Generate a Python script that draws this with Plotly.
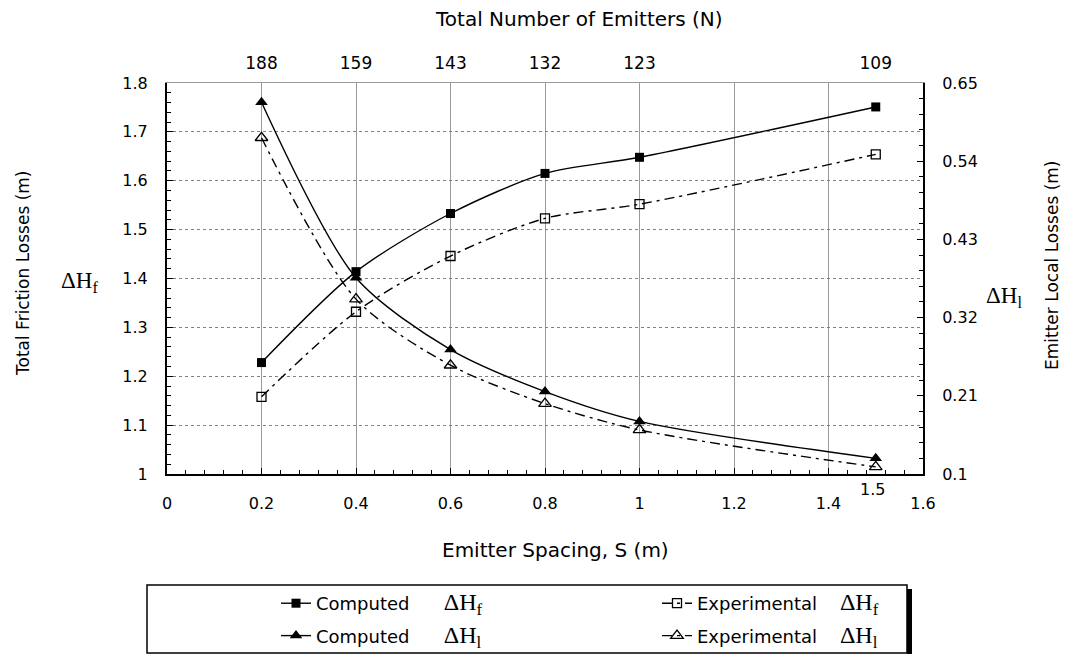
import plotly.graph_objects as go

# Emitter spacing (m) and the total number of emitters at each spacing
spacing = [0.2, 0.4, 0.6, 0.8, 1.0, 1.5]
n_emitters = ["188", "159", "143", "132", "123", "109"]

# Total friction losses ΔHf (m)
hf_computed = [1.228, 1.414, 1.533, 1.615, 1.648, 1.751]
hf_experimental = [1.158, 1.332, 1.446, 1.523, 1.552, 1.654]

# Emitter local losses ΔHl (m)
hl_computed = [0.623, 0.376, 0.275, 0.216, 0.174, 0.122]
hl_experimental = [0.573, 0.346, 0.253, 0.199, 0.162, 0.110]

# Right-axis tick labels
hl_ticks = [0.1, 0.21, 0.32, 0.43, 0.54, 0.65]
hl_ticktext = ["0.1", "0.21", "0.32", "0.43", "0.54", "0.65"]

SANS = "DejaVu Sans"
SERIF = "Liberation Serif"
W, H = 1067, 655
ML, MR, MT, MB = 167, 144, 83, 181
PW, PH = W - ML - MR, H - MT - MB


def px(x):
    return (x - ML) / PW


def py(y):
    return (H - MB - y) / PH


def dh(sub, size=24):
    return (f"<span style='font-family:{SERIF};font-size:{size}px'>"
            f"ΔH<sub>{sub}</sub></span>")


NB = "\u00a0"
dashdot = "10px,5px,3px,5px"

fig = go.Figure()

fig.add_trace(go.Scatter(
    x=spacing, y=hf_computed, mode="lines+markers",
    line=dict(color="black", width=1.4, shape="spline", smoothing=0.8),
    marker=dict(symbol="square", size=9, color="black"),
    name="Computed" + NB * 6 + dh("f"), legend="legend", legendgroup="a",
))
fig.add_trace(go.Scatter(
    x=spacing, y=hl_computed, yaxis="y2", mode="lines+markers",
    line=dict(color="black", width=1.4, shape="spline", smoothing=0.8),
    marker=dict(symbol="triangle-up", size=11, color="black"),
    name="Computed" + NB * 6 + dh("l"), legend="legend", legendgroup="b",
))
fig.add_trace(go.Scatter(
    x=spacing, y=hf_experimental, mode="lines+markers",
    line=dict(color="black", width=1.4, shape="spline", smoothing=0.8, dash=dashdot),
    marker=dict(symbol="square-open", size=9, color="black", line=dict(width=1.3)),
    name="Experimental" + NB * 4 + dh("f"), legend="legend2", legendgroup="c",
))
fig.add_trace(go.Scatter(
    x=spacing, y=hl_experimental, yaxis="y2", mode="lines+markers",
    line=dict(color="black", width=1.4, shape="spline", smoothing=0.8, dash=dashdot),
    marker=dict(symbol="triangle-up-open", size=11, color="black", line=dict(width=1.3)),
    name="Experimental" + NB * 4 + dh("l"), legend="legend2", legendgroup="d",
))
# Top axis carrier (emitter counts)
fig.add_trace(go.Scatter(
    x=spacing, y=hf_computed, xaxis="x2", mode="markers",
    marker=dict(opacity=0), showlegend=False, hoverinfo="skip",
))

tick_font = dict(family=SANS, size=16, color="black")

fig.update_layout(
    width=W, height=H,
    margin=dict(l=ML, r=MR, t=MT, b=MB, autoexpand=False),
    paper_bgcolor="white", plot_bgcolor="white",
    font=dict(family=SANS, color="black"),
    xaxis=dict(
        range=[0, 1.6], dtick=0.2, tick0=0,
        showgrid=True, gridcolor="#9a9a9a", gridwidth=1,
        showline=True, linecolor="black", linewidth=2,
        ticks="inside", ticklen=6, tickcolor="black", tickwidth=1,
        minor=dict(dtick=0.04, ticks="inside", ticklen=4, tickcolor="black", showgrid=False),
        tickfont=tick_font, ticklabelstandoff=14, zeroline=False,
    ),
    xaxis2=dict(
        range=[0, 1.6], overlaying="x", side="top",
        tickmode="array", tickvals=spacing, ticktext=n_emitters,
        ticks="", showgrid=False, zeroline=False,
        showline=True, linecolor="#9a9a9a", linewidth=1,
        tickfont=dict(family=SANS, size=17, color="black"), ticklabelstandoff=6,
    ),
    yaxis=dict(
        range=[1, 1.8], dtick=0.1, tick0=1,
        showgrid=True, gridcolor="#808080", gridwidth=1, griddash="dot",
        showline=True, linecolor="black", linewidth=2,
        ticks="inside", ticklen=6, tickcolor="black", tickwidth=1,
        minor=dict(dtick=0.02, ticks="inside", ticklen=4, tickcolor="black", showgrid=False),
        tickfont=tick_font, ticklabelstandoff=14, zeroline=False,
    ),
    yaxis2=dict(
        range=[0.1, 0.65], overlaying="y", side="right",
        tickmode="array", tickvals=hl_ticks, ticktext=hl_ticktext,
        showgrid=False, zeroline=False,
        showline=True, linecolor="black", linewidth=2,
        ticks="inside", ticklen=6, tickcolor="black", tickwidth=1,
        minor=dict(tick0=0.1, dtick=0.022, ticks="inside", ticklen=4, tickcolor="black"),
        tickfont=tick_font, ticklabelstandoff=14,
    ),
    legend=dict(
        x=px(276), y=py(585), xanchor="left", yanchor="top",
        orientation="v", bgcolor="rgba(0,0,0,0)", borderwidth=0,
        font=dict(family=SANS, size=18, color="black"),
        tracegroupgap=6,
    ),
    legend2=dict(
        x=px(657), y=py(585), xanchor="left", yanchor="top",
        orientation="v", bgcolor="rgba(0,0,0,0)", borderwidth=0,
        font=dict(family=SANS, size=18, color="black"),
        tracegroupgap=6,
    ),
    showlegend=True,
)

# Legend frame with a drop shadow on the right
fig.add_shape(type="rect", xref="paper", yref="paper",
              x0=px(907), x1=px(912), y0=py(589), y1=py(654),
              fillcolor="black", line=dict(width=0), layer="below")
fig.add_shape(type="rect", xref="paper", yref="paper",
              x0=px(147), x1=px(907), y0=py(585), y1=py(653),
              fillcolor="white", line=dict(color="black", width=1.5), layer="below")

annotations = [
    dict(x=px(579), y=py(19), text="Total Number of Emitters (N)",
         font=dict(family=SANS, size=20)),
    dict(x=px(555), y=py(550), text="Emitter Spacing, S (m)",
         font=dict(family=SANS, size=20)),
    dict(x=px(23), y=py(273), text="Total Friction Losses (m)", textangle=-90,
         font=dict(family=SANS, size=17)),
    dict(x=px(1052), y=py(265), text="Emitter Local Losses (m)", textangle=-90,
         font=dict(family=SANS, size=17)),
    dict(x=px(79), y=py(282), text=dh("f", 23), font=dict(family=SERIF, size=23)),
    dict(x=px(1004), y=py(297), text=dh("l", 23), font=dict(family=SERIF, size=23)),
    dict(x=px(872), y=py(489), text="1.5", font=dict(family=SANS, size=16)),
]
for a in annotations:
    a.update(xref="paper", yref="paper", showarrow=False,
             xanchor="center", yanchor="middle")
    a["font"]["color"] = "black"
fig.update_layout(annotations=annotations)

fig.write_html("out.html")
